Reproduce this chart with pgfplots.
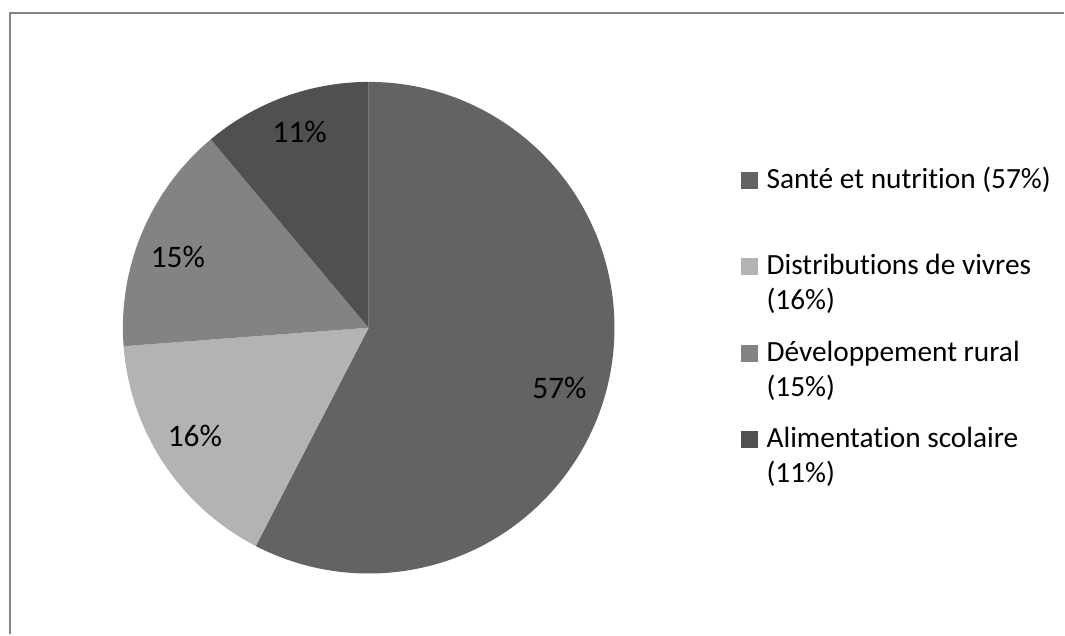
\documentclass[border=0pt]{standalone}
\usepackage{pgfplots}
\pgfplotsset{compat=1.18}
\usepackage{pgfplotstable}
\usepackage{fontspec}
\setmainfont{Carlito}[Ligatures=NoCommon]
\definecolor{cSante}{HTML}{636363}
\definecolor{cDistr}{HTML}{B3B3B3}
\definecolor{cDev}{HTML}{838383}
\definecolor{cAlim}{HTML}{505050}
\definecolor{cFrame}{HTML}{858585}
% shares (percent), clockwise from 12 o'clock
\pgfplotstableread{
name value
Sante 57.6
Distr 16.2
Dev 15.1
Alim 11.1
}\piedata
\pgfplotstablegetelem{0}{value}\of\piedata \let\vA\pgfplotsretval
\pgfplotstablegetelem{1}{value}\of\piedata \let\vB\pgfplotsretval
\pgfplotstablegetelem{2}{value}\of\piedata \let\vC\pgfplotsretval
\pgfplotstablegetelem{3}{value}\of\piedata \let\vD\pgfplotsretval
\pgfmathsetmacro\aO{90}
\pgfmathsetmacro\aA{\aO-3.6*\vA}
\pgfmathsetmacro\aB{\aA-3.6*\vB}
\pgfmathsetmacro\aC{\aB-3.6*\vC}
\pgfmathsetmacro\aD{\aC-3.6*\vD}
\newcommand\R{184.5pt}
\begin{document}
\begin{tikzpicture}
\begin{axis}[
  width=798.75pt, height=476.25pt, scale only axis,
  xmin=0, xmax=1065, ymin=0, ymax=635,
  axis lines=none, ticks=none, clip=false,
]
\path (axis cs:0,0) rectangle (axis cs:1065,635);
% frame
\draw[cFrame, line width=1.4pt] (axis cs:9.7,0) -- (axis cs:9.7,622.3) -- (axis cs:1065,622.3);
% wedges
\fill[cSante] (axis cs:369,307) -- ++(\aO:\R) arc[start angle=\aO, end angle=\aA, radius=\R] -- cycle;
\fill[cDistr] (axis cs:369,307) -- ++(\aA:\R) arc[start angle=\aA, end angle=\aB, radius=\R] -- cycle;
\fill[cDev] (axis cs:369,307) -- ++(\aB:\R) arc[start angle=\aB, end angle=\aC, radius=\R] -- cycle;
\fill[cAlim] (axis cs:369,307) -- ++(\aC:\R) arc[start angle=\aC, end angle=\aD, radius=\R] -- cycle;
% data labels
\begin{scope}[every node/.style={anchor=base, inner sep=0pt, font=\fontsize{23.5}{28}\selectfont}]
\node at (axis cs:560,236) {57\%};
\node at (axis cs:195,188) {16\%};
\node at (axis cs:178,367) {15\%};
\node at (axis cs:300,492.3) {11\%};
\end{scope}
% legend
\begin{scope}[every node/.style={anchor=base west, inner sep=0pt, font=\fontsize{22}{26}\selectfont}]
\fill[cSante] (axis cs:742,446) rectangle (axis cs:759,462.5);
\node at (axis cs:767,446) {Santé et nutrition (57\%)};
\fill[cDistr] (axis cs:742,360) rectangle (axis cs:759,376.5);
\node at (axis cs:767,360) {Distributions de vivres};
\node at (axis cs:767,325) {(16\%)};
\fill[cDev] (axis cs:742,273) rectangle (axis cs:759,289.5);
\node at (axis cs:767,273) {Développement rural};
\node at (axis cs:767,238) {(15\%)};
\fill[cAlim] (axis cs:742,187) rectangle (axis cs:759,203.5);
\node at (axis cs:767,187) {Alimentation scolaire};
\node at (axis cs:767,152) {(11\%)};
\end{scope}
\end{axis}
\end{tikzpicture}
\end{document}
